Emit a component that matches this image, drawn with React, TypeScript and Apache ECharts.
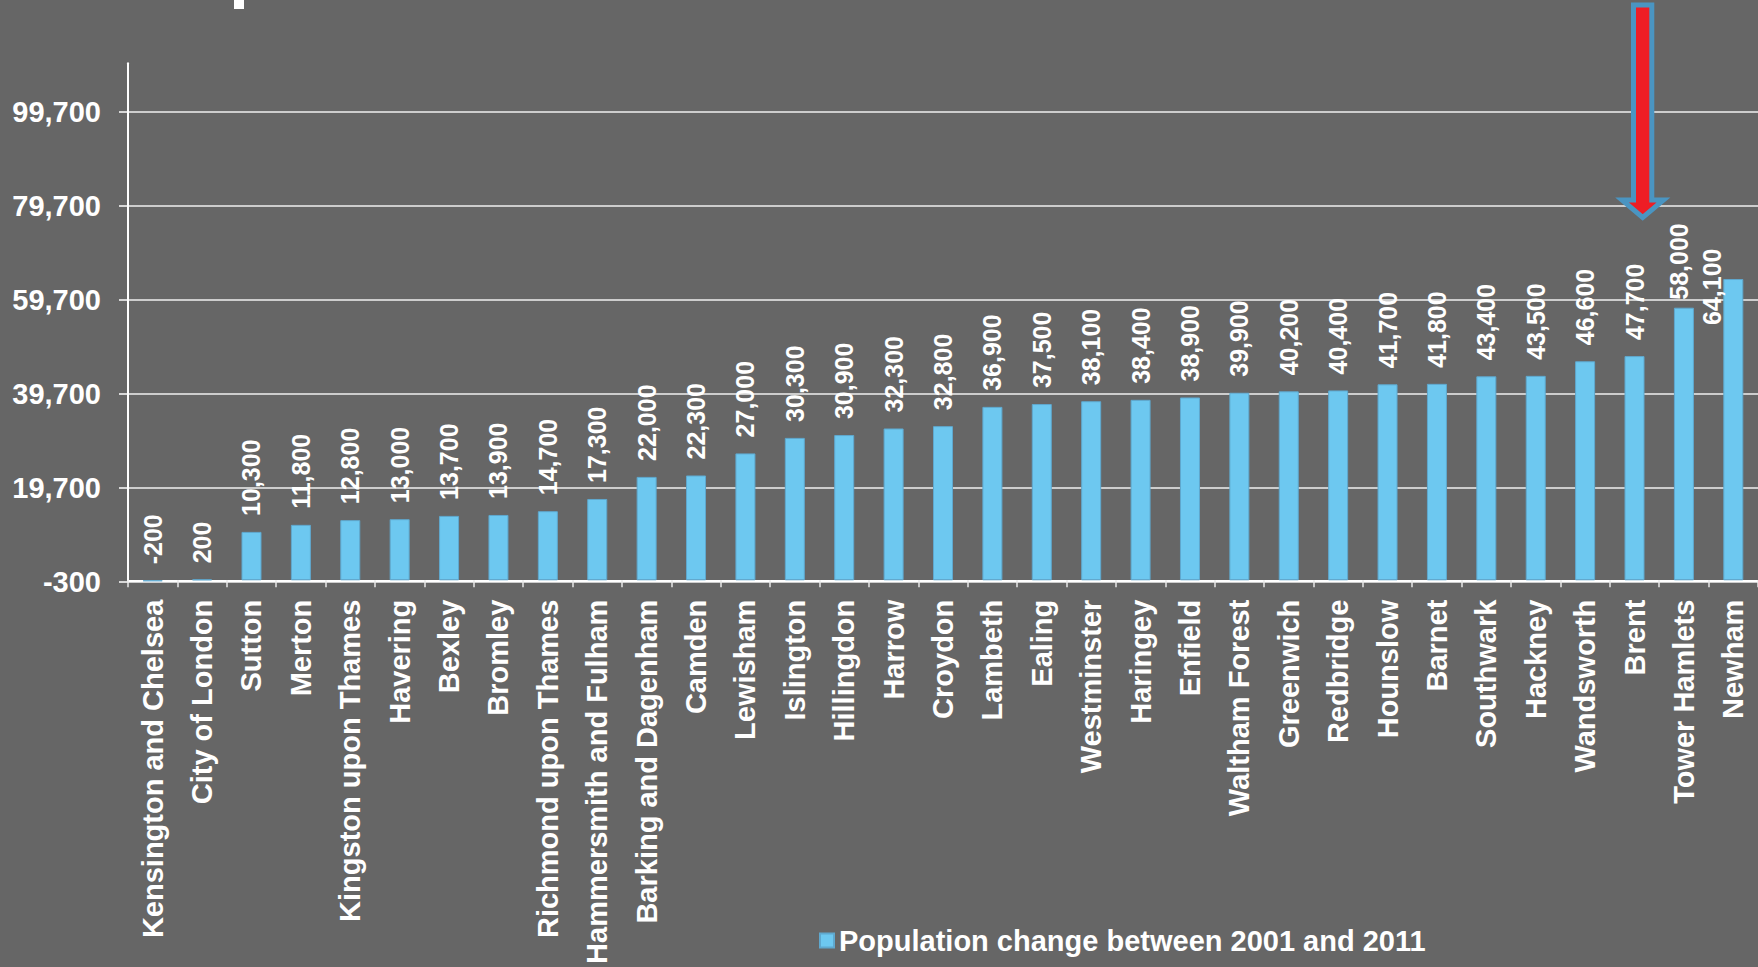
import React, { useEffect, useRef } from "react";
import * as echarts from "echarts";

const boroughs = [
  "Kensington and Chelsea", "City of London", "Sutton", "Merton", "Kingston upon Thames",
  "Havering", "Bexley", "Bromley", "Richmond upon Thames", "Hammersmith and Fulham",
  "Barking and Dagenham", "Camden", "Lewisham", "Islington", "Hillingdon", "Harrow",
  "Croydon", "Lambeth", "Ealing", "Westminster", "Haringey", "Enfield", "Waltham Forest",
  "Greenwich", "Redbridge", "Hounslow", "Barnet", "Southwark", "Hackney", "Wandsworth",
  "Brent", "Tower Hamlets", "Newham",
];

const populationChange = [
  -200, 200, 10300, 11800, 12800, 13000, 13700, 13900, 14700, 17300,
  22000, 22300, 27000, 30300, 30900, 32300, 32800, 36900, 37500, 38100,
  38400, 38900, 39900, 40200, 40400, 41700, 41800, 43400, 43500, 46600,
  47700, 58000, 64100,
];

const yTicks = [-300, 19700, 39700, 59700, 79700, 99700];

const seriesName = "Population change between 2001 and 2011";

const FONT = "'Liberation Sans', Arial, sans-serif";

export default function App() {
  const ref = useRef<HTMLDivElement>(null);

  useEffect(() => {
    if (!ref.current) return;
    const chart = echarts.init(ref.current, undefined, { renderer: "svg" });
    const fmt = (v: number) => v.toLocaleString("en-US");

    const data = populationChange.map((v, i) => {
      const name = boroughs[i];
      if (name === "Tower Hamlets") {
        return { value: v, label: { offset: [-8, -5] } };
      }
      if (name === "Newham") {
        return { value: v, label: { offset: [-62, -21] } };
      }
      return { value: v };
    });

    chart.setOption({
      animation: false,
      backgroundColor: "#666666",
      textStyle: { fontFamily: FONT },
      grid: { left: 128, right: -8.8, top: 63.3, bottom: 385.3, containLabel: false },
      legend: {
        show: true,
        left: 819,
        top: 926,
        itemWidth: 14,
        itemHeight: 14,
        icon: "rect",
        padding: 0,
        textStyle: { color: "#ffffff", fontSize: 29, fontWeight: "bold", fontFamily: FONT },
        data: [seriesName],
      },
      xAxis: {
        type: "category",
        data: boroughs,
        axisLine: { show: true, lineStyle: { color: "#ffffff", width: 2 } },
        axisTick: { show: true, length: 7, lineStyle: { color: "#e8e8e8", width: 1.5 } },
        axisLabel: {
          interval: 0,
          rotate: 90,
          margin: 18,
          color: "#ffffff",
          fontSize: 29,
          fontWeight: "bold",
          fontFamily: FONT,
        },
        splitLine: { show: false },
      },
      yAxis: {
        type: "value",
        min: -300,
        max: 110000,
        interval: 20000,
        axisLine: { show: true, lineStyle: { color: "#ffffff", width: 2 } },
        axisTick: {
          show: true,
          length: 9,
          customValues: yTicks,
          lineStyle: { color: "#ffffff", width: 1.5 },
        },
        axisLabel: {
          customValues: yTicks,
          margin: 27,
          color: "#ffffff",
          fontSize: 29,
          fontWeight: "bold",
          fontFamily: FONT,
          formatter: (v: number) => fmt(v),
        },
        splitLine: {
          show: true,
          lineStyle: { color: "#f0f0f0", width: 1.6 },
        },
      },
      series: [
        {
          name: seriesName,
          type: "bar",
          data,
          barWidth: 20,
          itemStyle: { color: "#6DC8F0", borderColor: "#5FA8CE", borderWidth: 1 },
          label: {
            show: true,
            position: "top",
            distance: 16,
            rotate: 90,
            align: "left",
            verticalAlign: "middle",
            color: "#ffffff",
            fontSize: 25,
            fontWeight: "bold",
            fontFamily: FONT,
            formatter: (p: any) => fmt(p.value),
          },
        },
      ],
      graphic: [
        {
          type: "rect",
          shape: { x: 234, y: 0, width: 10, height: 9 },
          style: { fill: "#ffffff" },
          silent: true,
        },
        {
          type: "polygon",
          shape: {
            points: [
              [1633.5, 5],
              [1651.8, 5],
              [1651.8, 200],
              [1663.5, 200],
              [1642.7, 217.5],
              [1622, 200],
              [1633.5, 200],
            ],
          },
          style: { fill: "#EE1D25", stroke: "#4A95C2", lineWidth: 5, lineJoin: "miter" },
          silent: true,
          z: 100,
        },
      ],
    });

    return () => chart.dispose();
  }, []);

  return (
    <div
      ref={ref}
      style={{ position: "fixed", left: 0, top: 0, width: 1758, height: 967 }}
    />
  );
}
